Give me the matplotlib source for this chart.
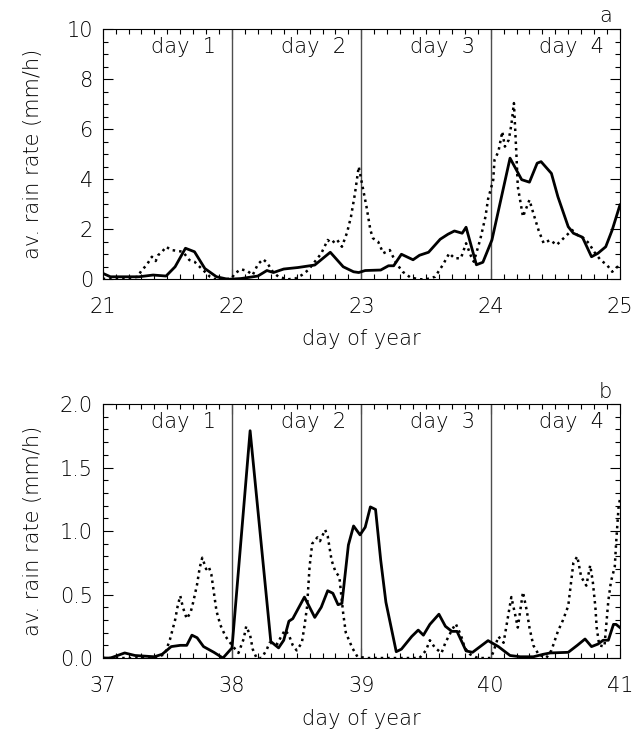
import matplotlib
matplotlib.use("Agg")
import matplotlib.pyplot as plt
from matplotlib.ticker import MultipleLocator

# panel a: days 21-25
t_a_solid = [21.0, 21.06, 21.17, 21.28, 21.39, 21.49, 21.56, 21.64, 21.71, 21.79, 21.88, 21.97,
             22.07, 22.2, 22.27, 22.32, 22.4, 22.51, 22.64, 22.76, 22.86, 22.94, 22.98, 23.03,
             23.15, 23.21, 23.25, 23.31, 23.4, 23.45, 23.52, 23.61, 23.67, 23.72, 23.78, 23.81,
             23.89, 23.94, 24.01, 24.15, 24.24, 24.3, 24.36, 24.39, 24.47, 24.52, 24.6, 24.64,
             24.71, 24.78, 24.83, 24.89, 24.94, 25.0]
r_a_solid = [0.24, 0.1, 0.1, 0.1, 0.17, 0.13, 0.5, 1.24, 1.1, 0.43, 0.1, 0.0,
             0.03, 0.13, 0.35, 0.27, 0.41, 0.47, 0.57, 1.08, 0.5, 0.3, 0.27, 0.35,
             0.37, 0.54, 0.54, 1.0, 0.78, 0.96, 1.08, 1.6, 1.8, 1.93, 1.84, 2.08,
             0.58, 0.68, 1.57, 4.84, 3.98, 3.88, 4.64, 4.7, 4.23, 3.3, 2.1, 1.84,
             1.68, 0.9, 1.04, 1.3, 1.97, 2.97]

t_a_dot = [21.0, 21.1, 21.2, 21.27, 21.3, 21.34, 21.38, 21.41, 21.43, 21.46, 21.49, 21.53,
           21.57, 21.62, 21.67, 21.71, 21.75, 21.79, 21.83, 21.87, 21.95, 22.0, 22.02, 22.07,
           22.12, 22.16, 22.2, 22.24, 22.27, 22.32, 22.36, 22.43, 22.49, 22.54, 22.59, 22.64,
           22.69, 22.74, 22.77, 22.81, 22.85, 22.89, 22.92, 22.95, 22.98, 23.0, 23.04, 23.07,
           23.09, 23.13, 23.17, 23.22, 23.27, 23.32, 23.38, 23.45, 23.5, 23.57, 23.63, 23.68,
           23.72, 23.77, 23.81, 23.85, 23.87, 23.92, 23.96, 23.98, 24.02, 24.03, 24.06, 24.09,
           24.11, 24.14, 24.16, 24.18, 24.2, 24.21, 24.25, 24.28, 24.3, 24.33, 24.37, 24.41,
           24.46, 24.51, 24.55, 24.63, 24.67, 24.72, 24.76, 24.8, 24.85, 24.9, 24.94, 24.98, 25.0]
r_a_dot = [0.02, 0.02, 0.03, 0.1, 0.35, 0.57, 0.9, 0.73, 0.97, 1.1, 1.3, 1.17,
           1.14, 1.1, 0.77, 0.7, 0.5, 0.3, 0.1, 0.0, 0.0, 0.05, 0.23, 0.4,
           0.33, 0.17, 0.6, 0.8, 0.67, 0.27, 0.1, 0.0, 0.03, 0.17, 0.37, 0.7,
           1.03, 1.57, 1.44, 1.6, 1.3, 1.87, 2.5, 3.4, 4.5, 3.96, 2.9, 1.97,
           1.64, 1.5, 1.04, 1.17, 0.64, 0.3, 0.07, 0.0, 0.0, 0.1, 0.57, 1.04,
           0.84, 0.84, 1.44, 0.9, 0.7, 1.6, 2.5, 3.2, 3.97, 4.77, 5.1, 5.9,
           5.3, 5.57, 6.17, 7.04, 4.9, 3.7, 2.5, 2.9, 3.17, 2.64, 1.97, 1.44,
           1.57, 1.37, 1.57, 1.97, 1.77, 1.64, 1.44, 1.1, 0.77, 0.57, 0.3, 0.5, 0.37]

# panel b: days 37-41
t_b_solid = [37.0, 37.06, 37.17, 37.25, 37.4, 37.46, 37.53, 37.6, 37.65, 37.69, 37.73, 37.78,
             37.86, 37.93, 38.0, 38.14, 38.3, 38.36, 38.4, 38.44, 38.47, 38.56, 38.64, 38.69,
             38.74, 38.78, 38.82, 38.85, 38.9, 38.94, 38.99, 39.03, 39.07, 39.11, 39.15, 39.19,
             39.27, 39.31, 39.39, 39.44, 39.48, 39.53, 39.6, 39.65, 39.7, 39.74, 39.81, 39.86,
             39.98, 40.06, 40.15, 40.23, 40.33, 40.41, 40.46, 40.6, 40.67, 40.73, 40.78, 40.83,
             40.87, 40.91, 40.95, 40.97, 41.0]
r_b_solid = [0.0, 0.0, 0.04, 0.02, 0.01, 0.03, 0.09, 0.1, 0.1, 0.18, 0.16, 0.09,
             0.045, 0.0, 0.08, 1.79, 0.13, 0.08, 0.14, 0.29, 0.31, 0.48, 0.32, 0.4,
             0.53, 0.51, 0.42, 0.43, 0.89, 1.04, 0.97, 1.03, 1.19, 1.17, 0.77, 0.44,
             0.05, 0.07, 0.17, 0.22, 0.18, 0.265, 0.345, 0.25, 0.21, 0.21, 0.056, 0.045,
             0.137, 0.09, 0.02, 0.01, 0.01, 0.03, 0.04, 0.045, 0.1, 0.15, 0.09, 0.11,
             0.14, 0.14, 0.265, 0.265, 0.24]

t_b_dot = [37.0, 37.1, 37.2, 37.3, 37.4, 37.48, 37.52, 37.56, 37.58, 37.6, 37.62, 37.65,
           37.68, 37.7, 37.73, 37.75, 37.77, 37.8, 37.82, 37.84, 37.88, 37.91, 37.95, 38.0,
           38.05, 38.09, 38.11, 38.14, 38.16, 38.19, 38.23, 38.27, 38.29, 38.35, 38.38, 38.41,
           38.44, 38.47, 38.5, 38.54, 38.56, 38.58, 38.6, 38.62, 38.66, 38.68, 38.72, 38.74,
           38.77, 38.8, 38.83, 38.86, 38.88, 38.93, 38.97, 39.05, 39.2, 39.35, 39.45, 39.5,
           39.53, 39.57, 39.62, 39.65, 39.7, 39.73, 39.77, 39.8, 39.84, 39.9, 40.0, 40.02,
           40.06, 40.1, 40.13, 40.16, 40.19, 40.21, 40.23, 40.25, 40.28, 40.3, 40.33, 40.37,
           40.43, 40.47, 40.52, 40.56, 40.6, 40.64, 40.67, 40.7, 40.74, 40.77, 40.79, 40.81,
           40.82, 40.84, 40.88, 40.91, 40.93, 40.96, 40.97, 40.99, 41.0]
r_b_dot = [0.0, 0.0, 0.0, 0.0, 0.0, 0.03, 0.145, 0.3, 0.41, 0.49, 0.4, 0.31,
           0.36, 0.44, 0.58, 0.71, 0.79, 0.7, 0.72, 0.66, 0.37, 0.26, 0.17, 0.1,
           0.04, 0.15, 0.25, 0.18, 0.07, 0.0, 0.0, 0.07, 0.12, 0.11, 0.17, 0.22,
           0.18, 0.1, 0.06, 0.12, 0.25, 0.4, 0.72, 0.9, 0.95, 0.92, 1.01, 0.96,
           0.77, 0.68, 0.64, 0.35, 0.2, 0.08, 0.01, 0.0, 0.0, 0.0, 0.0, 0.06,
           0.14, 0.08, 0.04, 0.12, 0.22, 0.27, 0.18, 0.08, 0.03, 0.0, 0.0, 0.045,
           0.17, 0.12, 0.3, 0.48, 0.34, 0.24, 0.38, 0.52, 0.37, 0.24, 0.1, 0.03,
           0.0, 0.06, 0.21, 0.3, 0.41, 0.75, 0.8, 0.64, 0.57, 0.73, 0.6, 0.4,
           0.24, 0.1, 0.09, 0.45, 0.6, 0.72, 0.9, 1.2, 1.25]

day_names = ["day  1", "day  2", "day  3", "day  4"]

plt.rcParams['font.family'] = ['DejaVu Sans']
plt.rcParams['font.size'] = 15
plt.rcParams['font.weight'] = 'light'
plt.rcParams['axes.labelweight'] = 'light'

fig = plt.figure(figsize=(6.39, 7.34), dpi=100)
ax_a = fig.add_axes([0.1607, 0.6195, 0.8095, 0.341])
ax_b = fig.add_axes([0.1607, 0.1035, 0.8095, 0.346])


def setup(ax, t0, ymax, ymajor, yminor, yfmt, letter):
    ax.set_xlim(t0, t0 + 4)
    ax.set_ylim(0, ymax)
    ax.xaxis.set_major_locator(MultipleLocator(1))
    ax.xaxis.set_minor_locator(MultipleLocator(0.1))
    ax.yaxis.set_major_locator(MultipleLocator(ymajor))
    ax.yaxis.set_minor_locator(MultipleLocator(yminor))
    ax.yaxis.set_major_formatter(yfmt)
    ax.tick_params(which='both', direction='in', top=True, right=True, width=0.8)
    ax.tick_params(which='major', length=7)
    ax.tick_params(which='minor', length=3.5)
    ax.tick_params(axis='x', which='major', pad=13)
    ax.tick_params(axis='y', which='major', pad=7)
    for s in ax.spines.values():
        s.set_linewidth(0.8)
    # day boundaries and labels
    for k in range(1, 4):
        ax.axvline(t0 + k, color='0.3', lw=1)
    for k, name in enumerate(day_names):
        ax.text(t0 + k + 0.88, 0.93, name, transform=ax.get_xaxis_transform(),
                ha='right', va='center')
    ax.text(0.985, 1.01, letter, transform=ax.transAxes, ha='right', va='bottom')
    ax.set_xlabel('day of year')
    ax.xaxis.set_label_coords(0.5, -0.2)
    ax.set_ylabel('av. rain rate (mm/h)')
    ax.yaxis.set_label_coords(-0.115, 0.5)


setup(ax_a, 21, 10, 2, 0.5, '{x:.0f}', 'a')
ax_a.plot(t_a_dot, r_a_dot, color='black', lw=1.8, linestyle=(0, (1, 1.6)))
ax_a.plot(t_a_solid, r_a_solid, color='black', lw=2)

setup(ax_b, 37, 2.0, 0.5, 0.1, '{x:.1f}', 'b')
ax_b.plot(t_b_dot, r_b_dot, color='black', lw=1.8, linestyle=(0, (1, 1.6)))
ax_b.plot(t_b_solid, r_b_solid, color='black', lw=2)

plt.savefig('out.png', dpi=100)
